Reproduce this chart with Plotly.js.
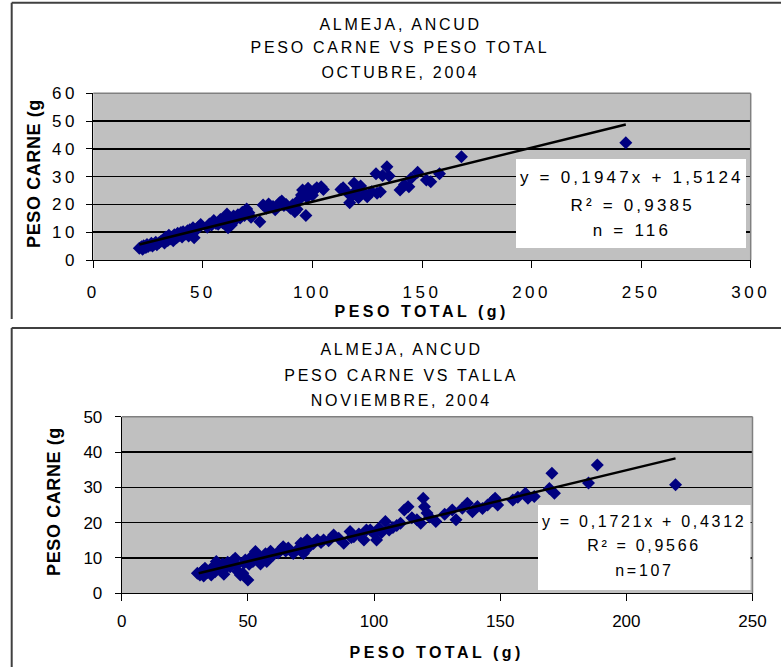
<!DOCTYPE html>
<html><head><meta charset="utf-8">
<script src="https://cdn.plot.ly/plotly-3.0.1.min.js"></script>
<style>
html,body{margin:0;padding:0;background:#fff;}
#chart{width:781px;height:667px;}
#chart .xtick text, #chart .ytick text{letter-spacing:3.5px;}
#chart .annotation text{letter-spacing:2.7px;}
#chart .annotation[data-index="6"] text, #chart .annotation[data-index="7"] text{letter-spacing:3.5px;}
#chart .annotation[data-index="8"] text, #chart .annotation[data-index="9"] text{letter-spacing:0.6px;}
#chart .annotation[data-index="10"] text, #chart .annotation[data-index="11"] text, #chart .annotation[data-index="12"] text{letter-spacing:3.2px;}
#chart .annotation[data-index="13"] text, #chart .annotation[data-index="14"] text, #chart .annotation[data-index="15"] text{letter-spacing:2.7px;}
</style>
</head><body>
<div id="chart"></div>
<script>
// ---------- DATA ----------
// Top chart: October 2004, PESO CARNE vs PESO TOTAL
const octTotal = [21,22,22.5,23,24,24.5,25,26,26.5,27,28,28.5,29,30,
  31,32,32.5,33,34,34.5,35,36,36.5,37,38,38.5,39,40,40.5,41,42,43,43.5,44,45,45.5,46,47,48,49,
  52,53,54,55,56,57,58,59,60,61,61.5,62,63,64,65,66,67,68,69,70,71,72,76,
  77.5,79,80,82,83,85,86,87,88,90,91,92,93,94,95,95.5,97,97.5,98,99,100,101,102,104,105,
  113,114,116,117,118,119,120,121,122,124,125,127,129,129.5,131,132,134,135,140,142,144,145,148,152,154,158,
  168,243];
const octCarne = [4.2,4.8,3.9,5.1,4.5,5.6,4.9,5.3,6.0,5.0,5.8,6.4,5.5,6.2,
  6.8,7.4,6.1,8.2,7.0,8.9,7.6,8.3,6.9,9.1,8.0,9.6,8.6,9.9,8.3,10.2,9.4,10.5,8.6,10.9,9.8,11.6,8.0,10.8,11.9,12.8,
  11.8,13.0,12.6,14.2,13.1,12.9,14.6,13.4,15.3,16.6,11.6,14.0,12.6,15.8,14.6,16.3,15.1,17.2,16.0,18.4,17.0,15.4,13.8,
  19.8,18.6,20.2,19.3,18.1,20.6,21.2,19.6,20.0,18.6,19.9,17.4,18.3,21.8,23.4,25.2,16.0,22.6,25.8,24.1,23.3,25.2,26.0,26.4,25.4,
  25.4,26.0,24.2,20.6,23.0,27.6,25.0,22.4,26.6,23.8,22.8,24.6,31.0,24.0,24.6,30.4,33.6,30.2,25.2,27.2,26.4,29.4,31.6,28.8,28.2,31.0,
  37.2,42.2];
const octTrendX = [21, 243];
const octTrendY = [5.6, 48.8];
const octTitle = ["ALMEJA, ANCUD", "PESO CARNE VS PESO TOTAL", "OCTUBRE, 2004"];
const octStats = ["y = 0,1947x + 1,5124", "R² = 0,9385", "n = 116"];
const octXTicks = [0,50,100,150,200,250,300];
const octYTicks = [0,10,20,30,40,50,60];

// Bottom chart: November 2004, PESO CARNE vs TALLA
const novTotal = [30,31,32,32.5,33,34,35,35.5,36,37,37.5,38,39,40,40.5,41,42,43,44,45,45.5,
  46,47,48,48.5,49,50,50.5,51,52,53,54,55,56,57,57.5,58,59,60,
  62,63,64,65,66,68,70,71,72,73.5,74,76,77.5,79,80,82,84,86,88,90.5,91,92,94,96,97,98.5,100,
  101,102,103,104.5,106,107.5,109,110.5,112,113.5,115,117,118.5,119.5,120,121,122,124.5,
  128,131,132.5,135,137,139,141,143,145,147,148,149,155,157,160,161,163.5,169.5,170.5,171.5,
  185,188.5,219.5];
const novCarne = [5.7,5.2,6.4,4.9,7.1,5.9,6.6,5.2,7.4,6.1,9.0,7.8,6.5,8.3,5.4,7.0,8.8,7.5,9.2,9.9,7.9,
  6.2,5.2,5.7,8.6,9.4,3.8,8.2,10.1,9.0,11.8,10.6,8.3,9.5,11.2,9.0,10.4,11.9,10.8,
  11.4,12.4,13.2,12.0,12.8,11.3,12.6,14.2,11.3,15.1,13.0,14.1,15.1,14.4,15.1,14.9,16.5,15.6,14.2,17.5,15.8,16.0,16.8,15.1,17.9,17.9,16.9,
  15.1,18.5,17.2,20.3,17.9,18.6,19.2,19.8,23.6,24.5,21.4,20.8,19.8,26.9,24.5,22.7,21.6,20.3,
  22.4,23.6,20.8,24.1,25.5,23.1,24.6,24.0,25.0,26.2,26.9,25.0,26.4,27.2,28.3,26.9,27.4,29.7,34.0,28.3,
  31.2,36.3,30.7];
const novTrendX = [30.5, 219.5];
const novTrendY = [5.7, 38.2];
const novTitle = ["ALMEJA, ANCUD", "PESO CARNE VS TALLA", "NOVIEMBRE, 2004"];
const novStats = ["y = 0,1721x + 0,4312", "R² = 0,9566", "n=107"];
const novXTicks = [0,50,100,150,200,250];
const novYTicks = [0,10,20,30,40,50];

const xTitle = "PESO TOTAL (g)";
const yTitle = "PESO CARNE (g";

// ---------- LAYOUT ----------
const W = 781, H = 667;
const px = p => p / W;
const py = p => 1 - p / H;
const FONT = "'Liberation Sans', Arial, sans-serif";
const navy = "#000080";

function axisX(domain, range, ticks, anchor, standoff) {
  return {domain: domain, range: range, tickvals: ticks, ticktext: ticks.map(String),
    anchor: anchor, showgrid: false, zeroline: false, showline: true, linecolor: "#000", linewidth: 1,
    ticks: "outside", ticklen: 7, tickcolor: "#000", ticklabelstandoff: standoff,
    tickfont: {family: FONT, size: 17, color: "#000"}, fixedrange: true};
}
function axisY(domain, range, ticks, anchor, standoff) {
  return {domain: domain, range: range, tickvals: ticks, ticktext: ticks.map(String),
    anchor: anchor, showgrid: true, gridcolor: "#000", gridwidth: 1.5, zeroline: false,
    showline: true, linecolor: "#000", linewidth: 1,
    ticks: "outside", ticklen: 6, tickcolor: "#000", ticklabelstandoff: standoff,
    tickfont: {family: FONT, size: 17, color: "#000"}, fixedrange: true};
}

const traces = [
  {x: octTotal, y: octCarne, xaxis: "x", yaxis: "y", type: "scatter", mode: "markers",
   marker: {symbol: "diamond", size: 10, color: navy}, showlegend: false},
  {x: octTrendX, y: octTrendY, xaxis: "x", yaxis: "y", type: "scatter", mode: "lines",
   line: {color: "#000", width: 2.5}, showlegend: false},
  {x: novTotal, y: novCarne, xaxis: "x2", yaxis: "y2", type: "scatter", mode: "markers",
   marker: {symbol: "diamond", size: 10, color: navy}, showlegend: false},
  {x: novTrendX, y: novTrendY, xaxis: "x2", yaxis: "y2", type: "scatter", mode: "lines",
   line: {color: "#000", width: 2.5}, showlegend: false}
];

const ann = [];
function txt(text, x, y, size, opts, weight) {
  ann.push(Object.assign({text: text, xref: "paper", yref: "paper", x: px(x), y: py(y),
    xanchor: "center", yanchor: "middle", showarrow: false,
    font: {family: FONT, size: size, color: "#000", weight: weight || "normal"}}, opts || {}));
}
// 0-2 top title, 3-5 bottom title
[24, 48, 72].forEach((yy, i) => txt(octTitle[i], 400, yy, 16));
[350, 375, 400].forEach((yy, i) => txt(novTitle[i], 401, yy, 16));
// 6-7 x titles
txt(xTitle, 422, 311, 16, null, "bold");
txt(xTitle, 436, 652, 16, null, "bold");
// 8-9 y titles
txt(yTitle, 34, 174, 18, {textangle: -90}, "bold");
txt(yTitle, 54, 502, 18, {textangle: -90}, "bold");
// 10-12 top stats, 13-15 bottom stats
[177, 205, 230].forEach((yy, i) => txt(octStats[i], 632, yy, 17));
[521.5, 545, 570].forEach((yy, i) => txt(novStats[i], 644, yy, 16));

const border = {color: "#404040", width: 2};
const shapes = [
  // panel frames
  {type: "line", xref: "paper", yref: "paper", x0: px(11.7), x1: px(790), y0: py(2.7), y1: py(2.7), line: border},
  {type: "line", xref: "paper", yref: "paper", x0: px(11.7), x1: px(11.7), y0: py(2.7), y1: py(319), line: border},
  {type: "line", xref: "paper", yref: "paper", x0: px(11.7), x1: px(790), y0: py(328), y1: py(328), line: border},
  {type: "line", xref: "paper", yref: "paper", x0: px(11.7), x1: px(11.7), y0: py(328), y1: py(680), line: border},
  // plot-area borders (top & right, grey)
  {type: "line", xref: "x domain", yref: "y domain", x0: 0, x1: 1, y0: 1, y1: 1, line: {color: "#808080", width: 1.5}},
  {type: "line", xref: "x domain", yref: "y domain", x0: 1, x1: 1, y0: 0, y1: 1, line: {color: "#808080", width: 1.5}},
  {type: "line", xref: "x2 domain", yref: "y2 domain", x0: 0, x1: 1, y0: 1, y1: 1, line: {color: "#808080", width: 1.5}},
  {type: "line", xref: "x2 domain", yref: "y2 domain", x0: 1, x1: 1, y0: 0, y1: 1, line: {color: "#808080", width: 1.5}},
  // white stats boxes
  {type: "rect", xref: "paper", yref: "paper", x0: px(516), x1: px(746), y0: py(248), y1: py(159),
   fillcolor: "#fff", line: {width: 0}, layer: "above"},
  {type: "rect", xref: "paper", yref: "paper", x0: px(538), x1: px(750.5), y0: py(590), y1: py(505),
   fillcolor: "#fff", line: {width: 0}, layer: "above"}
];

const layout = {
  width: W, height: H, margin: {l: 0, r: 0, t: 0, b: 0},
  paper_bgcolor: "#fff", plot_bgcolor: "#C0C0C0",
  font: {family: FONT, color: "#000"},
  showlegend: false,
  xaxis: axisX([px(93.3), px(750.7)], [0, 300], octXTicks, "y", 10),
  yaxis: axisY([py(260), py(93.3)], [0, 60], octYTicks, "x", 5),
  xaxis2: axisX([px(121.7), px(752.5)], [0, 250], novXTicks, "y2", 5),
  yaxis2: axisY([py(593.3), py(416.7)], [0, 50], novYTicks, "x2", 9),
  shapes: shapes,
  annotations: ann
};

Plotly.newPlot("chart", traces, layout, {staticPlot: true, displayModeBar: false}).then(function () {
  document.querySelectorAll("#chart svg text").forEach(function (t) {
    if (!t.textContent || !t.textContent.trim()) t.remove();
  });
});
</script>
</body></html>
